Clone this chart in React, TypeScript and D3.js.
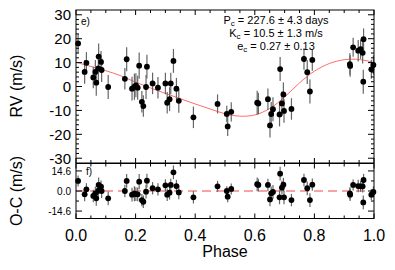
import * as d3 from "d3";

// orbital phase of each RV measurement
const phase = [
  0.007, 0.029, 0.035, 0.058, 0.065, 0.068, 0.075, 0.076, 0.084, 0.086,
  0.108, 0.164, 0.170, 0.188, 0.196, 0.201, 0.207, 0.212, 0.221, 0.226,
  0.235, 0.238, 0.257, 0.275, 0.300, 0.306, 0.314, 0.318, 0.327, 0.337,
  0.345, 0.394, 0.475, 0.506, 0.509, 0.521, 0.608, 0.612, 0.644, 0.651,
  0.655, 0.661, 0.683, 0.685, 0.691, 0.696, 0.698, 0.723, 0.765, 0.776,
  0.785, 0.793, 0.919, 0.920, 0.930, 0.947, 0.955, 0.962, 0.965, 0.964,
  0.991, 0.998,
];
// RV (m/s)
const rv = [
  18.0, 6.1, 9.9, 3.8, 6.1, 1.6, 7.6, 12.5, 10.3, 6.9,
  -0.2, 3.2, 11.4, -0.9, -0.1, 0.5, -0.5, 8.7, -6.4, -8.2,
  -0.2, 8.3, 1.3, -0.5, 1.3, -6.8, -5.3, 1.3, 10.7, -0.9,
  -6.0, -12.9, -7.3, -11.5, -16.7, -10.6, -6.8, -7.1, -5.3, -16.3,
  -11.5, -9.5, -11.7, 7.3, -7.1, -3.3, -10.2, -9.4, 11.5, 6.0,
  -2.1, 11.1, 9.4, 8.6, 16.4, 15.0, 15.6, 14.1, 19.8, 2.0,
  7.2, 9.0,
];
// 1-sigma errors (m/s)
const rvErr = [
  4, 5, 4.5, 4.5, 5, 5.5, 5.5, 5.5, 4.5, 5,
  5, 4.5, 5, 5, 5.5, 5, 5, 5.5, 4.5, 4.5,
  5, 5, 4.5, 4.5, 4.5, 4.5, 5, 4.5, 5, 4.5,
  5, 4.5, 4, 3.5, 4, 4, 5, 4.5, 4.5, 5,
  5, 5, 5, 5, 5, 5, 5, 4.5, 4.5, 5,
  5, 4.5, 4.5, 4.5, 4, 4.5, 4, 4.5, 4.5, 5,
  4, 4,
];
// O-C residuals (m/s)
const resid = [
  7.3, -2.4, 1.2, -3.6, -1.7, -5.3, 0.2, 4.4, 3.2, 0.0,
  -5.3, 0.0, 7.3, -2.7, -2.0, -2.2, -2.4, 6.8, -6.6, -7.8,
  -0.5, 7.5, 2.0, 1.2, 4.1, -2.7, -1.2, 4.4, 13.6, 3.6,
  -1.0, -4.6, 3.4, 0.0, -4.1, 1.5, 4.9, 4.4, 4.4, -6.1,
  -1.7, -0.7, -4.6, 12.6, 2.4, 4.6, -4.6, -6.6, 8.0, 2.0,
  -6.6, 4.6, -1.7, -2.7, 4.4, 3.6, 3.4, 3.4, 8.0, -8.3,
  -2.7, -0.7,
];

// Keplerian model
const modelPhase = [
  0, 0.05, 0.1, 0.15, 0.2, 0.25, 0.3, 0.35, 0.4, 0.45, 0.5,
  0.55, 0.6, 0.65, 0.7, 0.75, 0.8, 0.85, 0.9, 0.95, 1.0,
];
const modelRv = [
  10.1, 8.4, 6.6, 4.5, 1.8, -0.6, -2.9, -5.1, -7.3, -9.4, -11.4,
  -12.4, -11.9, -9.2, -4.4, 1.5, 6.4, 9.6, 11.2, 11.3, 10.1,
];

const phaseTicks = [0, 0.2, 0.4, 0.6, 0.8, 1.0];
const rvTicks = [-30, -20, -10, 0, 10, 20, 30];
const ocTicks = [-14.6, 0, 14.6];
const ocMinor = [-7.3, 7.3];

const FONT = "'Liberation Sans', Arial, Helvetica, sans-serif";

function Frame({ x, y, major, minor }: any) {
  const [x0, x1] = x.range();
  const [y0, y1] = y.range(); // bottom, top
  const xMinor = d3.range(0, 1.0001, 0.05);
  return (
    <g stroke="#000" strokeWidth={1} fill="none">
      <rect x={x0} y={y1} width={x1 - x0} height={y0 - y1} />
      {xMinor.map((t, i) => {
        const len = i % 4 === 0 ? 5 : 3;
        const px = x(t);
        return (
          <g key={"xt" + i}>
            <line x1={px} x2={px} y1={y0} y2={y0 - len} />
            <line x1={px} x2={px} y1={y1} y2={y1 + len} />
          </g>
        );
      })}
      {major.map((v: number, i: number) => (
        <g key={"ym" + i}>
          <line x1={x0} x2={x0 + 6} y1={y(v)} y2={y(v)} />
          <line x1={x1} x2={x1 - 6} y1={y(v)} y2={y(v)} />
        </g>
      ))}
      {minor.map((v: number, i: number) => (
        <g key={"yn" + i}>
          <line x1={x0} x2={x0 + 3} y1={y(v)} y2={y(v)} />
          <line x1={x1} x2={x1 - 3} y1={y(v)} y2={y(v)} />
        </g>
      ))}
    </g>
  );
}

export default function App() {
  const x = d3.scaleLinear().domain([0, 1]).range([76, 374]);
  const y = d3.scaleLinear().domain([-32, 32]).range([163, 10]);
  const y2 = d3.scaleLinear().domain([-20, 20]).range([218.5, 163.5]);

  const model = d3
    .line<number>()
    .x((_, i) => x(modelPhase[i]))
    .y((d) => y(d))
    .curve(d3.curveCatmullRom);

  const rvMinor = d3.range(-30, 31, 2).filter((v) => v % 10 !== 0);

  return (
    <svg
      width={395}
      height={270}
      style={{ position: "absolute", left: 0, top: 0, background: "#fff" }}
      fontFamily={FONT}
    >
      {/* top panel */}
      <path d={model(modelRv) || ""} fill="none" stroke="#ff5a5a" strokeWidth={0.9} />
      <g stroke="#666" strokeWidth={1.2}>
        {phase.map((p, i) => (
          <line key={i} x1={x(p)} x2={x(p)} y1={y(rv[i] - rvErr[i])} y2={y(rv[i] + rvErr[i])} />
        ))}
      </g>
      <g fill="#000">
        {phase.map((p, i) => (
          <circle key={i} cx={x(p)} cy={y(rv[i])} r={2.9} />
        ))}
      </g>
      <Frame x={x} y={y} major={rvTicks} minor={rvMinor} />
      {rvTicks.map((v) => (
        <text key={v} x={71} y={y(v)} dy="0.36em" textAnchor="end" fontSize={15}>
          {v}
        </text>
      ))}
      <text x={81} y={25} fontSize={10}>e)</text>
      <g fontSize={11} textAnchor="middle">
        <text x={276} y={24}>
          P<tspan fontSize={8} dy={1.5}>c</tspan>
          <tspan dy={-1.5}> = 227.6 ± 4.3 days</tspan>
        </text>
        <text x={276} y={37}>
          K<tspan fontSize={8} dy={1.5}>c</tspan>
          <tspan dy={-1.5}> = 10.5 ± 1.3 m/s</tspan>
        </text>
        <text x={276} y={50}>
          e<tspan fontSize={8} dy={1.5}>c</tspan>
          <tspan dy={-1.5}> = 0.27 ± 0.13</tspan>
        </text>
      </g>
      <text transform="translate(22,86) rotate(-90)" textAnchor="middle" fontSize={16}>
        RV (m/s)
      </text>

      {/* bottom panel */}
      <line x1={76} x2={374} y1={y2(0)} y2={y2(0)} stroke="#f7a3a3" strokeWidth={2} strokeDasharray="9,5" />
      <g stroke="#666" strokeWidth={1.2}>
        {phase.map((p, i) => (
          <line key={i} x1={x(p)} x2={x(p)} y1={y2(resid[i] - rvErr[i])} y2={y2(resid[i] + rvErr[i])} />
        ))}
      </g>
      <g fill="#000">
        {phase.map((p, i) => (
          <circle key={i} cx={x(p)} cy={y2(resid[i])} r={2.9} />
        ))}
      </g>
      <Frame x={x} y={y2} major={ocTicks} minor={ocMinor} />
      {ocTicks.map((v) => (
        <text key={v} x={71} y={y2(v)} dy="0.36em" textAnchor="end" fontSize={10}>
          {v.toFixed(1)}
        </text>
      ))}
      <text x={86} y={175} fontSize={10}>f)</text>
      <text transform="translate(22,191) rotate(-90)" textAnchor="middle" fontSize={16}>
        O-C (m/s)
      </text>

      {phaseTicks.map((v) => (
        <text key={v} x={x(v)} y={241} textAnchor="middle" fontSize={16}>
          {v.toFixed(1)}
        </text>
      ))}
      <text x={225} y={257} textAnchor="middle" fontSize={16}>
        Phase
      </text>
    </svg>
  );
}
